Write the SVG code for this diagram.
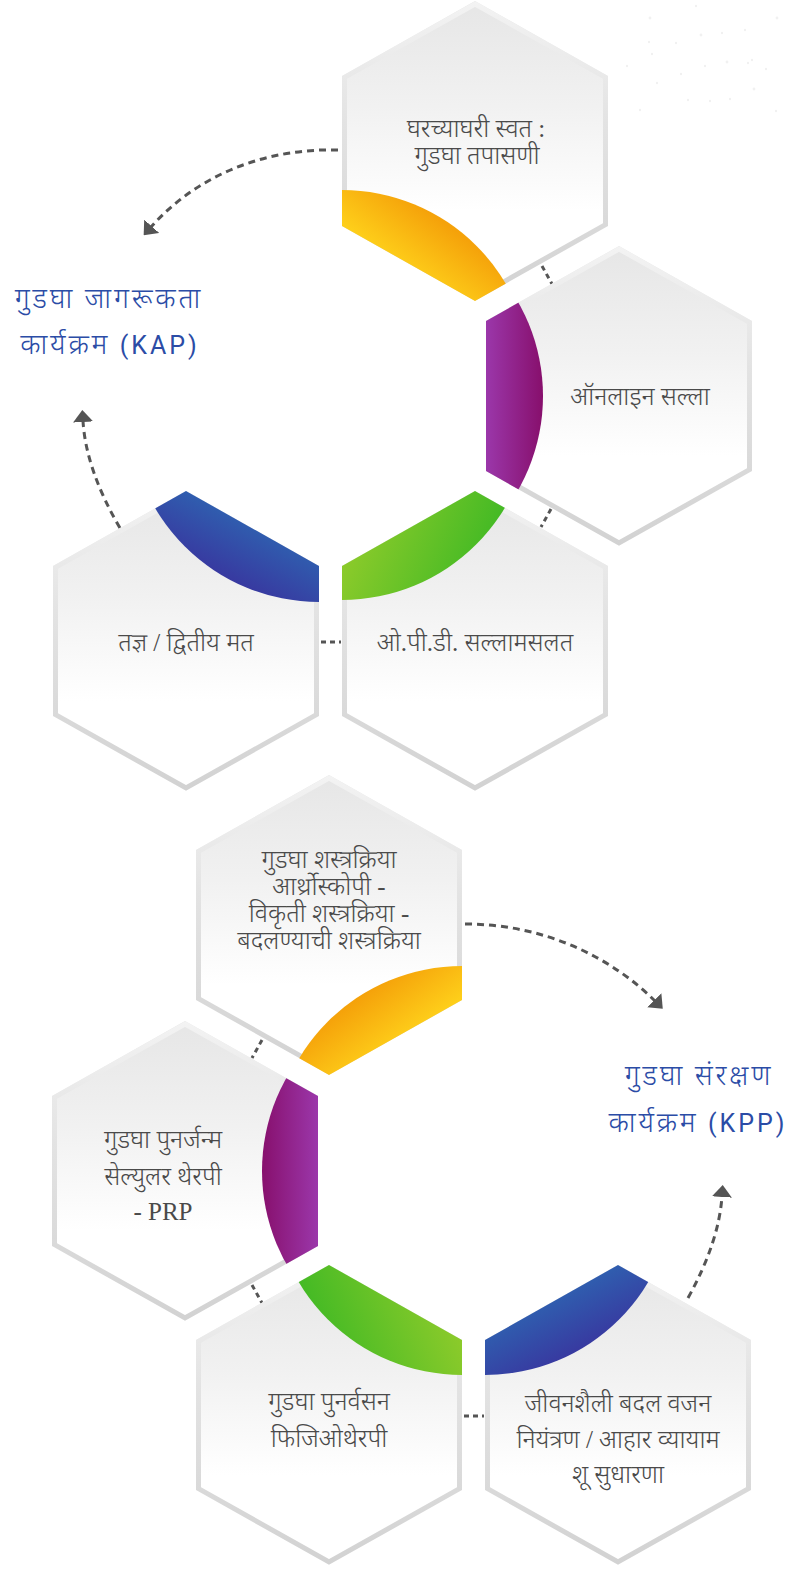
<svg xmlns="http://www.w3.org/2000/svg" width="792" height="1571" viewBox="0 0 792 1571">
  <defs>
    <style>
      .hexfill { fill: url(#hexFill); }
      .hexedge { fill: none; stroke: url(#hexEdge); stroke-width: 5; stroke-linejoin: miter; }
      .label { font-family: 'Liberation Serif', 'Noto Sans Devanagari', 'Noto Serif Devanagari', serif; font-size: 25px; font-weight: 300; fill: #4a4a4a; text-anchor: middle; }
      .title { font-family: Roboto, 'Noto Sans Devanagari', 'Noto Sans', sans-serif; font-size: 28px; font-weight: 300; letter-spacing: 2.8px; fill: #2b4ca6; text-anchor: middle; }
      .latin { font-size: 25px; font-weight: 400; letter-spacing: 3px; }
      .flow { fill: none; stroke: #555555; stroke-width: 3; stroke-dasharray: 7 5; }
      .link { fill: none; stroke: #555555; stroke-width: 3; stroke-dasharray: 5 4; }
      .dot { fill: #f1f1f1; }
    </style>

    <!-- hexagon outline, centred on the origin -->
    <path id="hexOuter" d="M0,-150 L133,-75 L133,75 L0,150 L-133,75 L-133,-75 Z"/>
    <clipPath id="hexClip" clipPathUnits="userSpaceOnUse">
      <use href="#hexOuter"/>
    </clipPath>

    <linearGradient id="hexFill" gradientUnits="userSpaceOnUse" x1="0" y1="-150" x2="0" y2="60">
      <stop offset="0" stop-color="#e6e6e6"/>
      <stop offset="0.5" stop-color="#f1f1f1"/>
      <stop offset="1" stop-color="#ffffff"/>
    </linearGradient>
    <linearGradient id="hexEdge" gradientUnits="userSpaceOnUse" x1="0" y1="-150" x2="0" y2="150">
      <stop offset="0" stop-color="#f3f3f3"/>
      <stop offset="0.4" stop-color="#e3e3e3"/>
      <stop offset="1" stop-color="#d2d2d2"/>
    </linearGradient>

    <!-- accent segment colours -->
    <linearGradient id="yellowA" gradientUnits="userSpaceOnUse" x1="-20" y1="80" x2="-60" y2="135">
      <stop offset="0" stop-color="#f5a20a"/>
      <stop offset="1" stop-color="#ffd41c"/>
    </linearGradient>
    <linearGradient id="yellowB" gradientUnits="userSpaceOnUse" x1="20" y1="80" x2="60" y2="135">
      <stop offset="0" stop-color="#f5a20a"/>
      <stop offset="1" stop-color="#ffd41c"/>
    </linearGradient>
    <linearGradient id="purpleA" gradientUnits="userSpaceOnUse" x1="-133" y1="0" x2="-76" y2="0">
      <stop offset="0" stop-color="#9b37aa"/>
      <stop offset="1" stop-color="#870f6c"/>
    </linearGradient>
    <linearGradient id="purpleB" gradientUnits="userSpaceOnUse" x1="133" y1="0" x2="76" y2="0">
      <stop offset="0" stop-color="#9b37aa"/>
      <stop offset="1" stop-color="#870f6c"/>
    </linearGradient>
    <linearGradient id="greenA" gradientUnits="userSpaceOnUse" x1="-130" y1="-110" x2="10" y2="-50">
      <stop offset="0" stop-color="#92cc2b"/>
      <stop offset="1" stop-color="#3cb824"/>
    </linearGradient>
    <linearGradient id="greenB" gradientUnits="userSpaceOnUse" x1="130" y1="-110" x2="-10" y2="-50">
      <stop offset="0" stop-color="#92cc2b"/>
      <stop offset="1" stop-color="#3cb824"/>
    </linearGradient>
    <linearGradient id="blueA" gradientUnits="userSpaceOnUse" x1="90" y1="-140" x2="40" y2="-45">
      <stop offset="0" stop-color="#2b72b7"/>
      <stop offset="1" stop-color="#3a2f9c"/>
    </linearGradient>
    <linearGradient id="blueB" gradientUnits="userSpaceOnUse" x1="-90" y1="-140" x2="-40" y2="-45">
      <stop offset="0" stop-color="#2b72b7"/>
      <stop offset="1" stop-color="#3a2f9c"/>
    </linearGradient>

    <marker id="arrow" viewBox="0 0 12 20" refX="1" refY="10" markerWidth="12" markerHeight="20" markerUnits="userSpaceOnUse" orient="auto">
      <path d="M0,0 L12,10 L0,20 Z" fill="#555555"/>
    </marker>
  </defs>

  <rect width="792" height="1571" fill="#ffffff"/>

  <!-- faint dot texture, top right -->
  <g id="dots">
    <circle class="dot" cx="650" cy="18" r="1.4"/>
    <circle class="dot" cx="696" cy="6" r="1.2"/>
    <circle class="dot" cx="649" cy="42" r="1.2"/>
    <circle class="dot" cx="701" cy="35" r="1.4"/>
    <circle class="dot" cx="722" cy="33" r="1.2"/>
    <circle class="dot" cx="745" cy="30" r="1.2"/>
    <circle class="dot" cx="777" cy="18" r="1.4"/>
    <circle class="dot" cx="752" cy="60" r="1.2"/>
    <circle class="dot" cx="676" cy="43" r="1.2"/>
    <circle class="dot" cx="627" cy="66" r="1.2"/>
    <circle class="dot" cx="652" cy="54" r="1.2"/>
    <circle class="dot" cx="727" cy="62" r="1.4"/>
    <circle class="dot" cx="748" cy="63" r="1.2"/>
    <circle class="dot" cx="766" cy="69" r="1.2"/>
    <circle class="dot" cx="681" cy="74" r="1.2"/>
    <circle class="dot" cx="705" cy="66" r="1.2"/>
    <circle class="dot" cx="754" cy="89" r="1.4"/>
    <circle class="dot" cx="710" cy="101" r="1.2"/>
    <circle class="dot" cx="730" cy="99" r="1.2"/>
    <circle class="dot" cx="657" cy="83" r="1.2"/>
    <circle class="dot" cx="776" cy="111" r="1.2"/>
    <circle class="dot" cx="640" cy="110" r="1.2"/>
    <circle class="dot" cx="688" cy="100" r="1.2"/>
  </g>

  <!-- connectors -->
  <g id="connectors">
    <path class="flow" d="M338,150 C270,148 200,172 151,227" marker-end="url(#arrow)"/>
    <path class="flow" d="M120,528 Q86,470 83,421" marker-end="url(#arrow)"/>
    <path class="flow" d="M465,924 C545,924 612,958 655,1001" marker-end="url(#arrow)"/>
    <path class="flow" d="M688,1298 Q719,1242 722,1196" marker-end="url(#arrow)"/>

    <path class="link" d="M542,266 L552,284"/>
    <path class="link" d="M551,509 L541,527"/>
    <path class="link" d="M321,642 L341,642"/>
    <path class="link" d="M262,1040 L252,1058"/>
    <path class="link" d="M252,1285 L262,1303"/>
    <path class="link" d="M464,1416 L484,1416"/>
  </g>

  <!-- KAP: awareness cycle -->
  <g id="hex-self-check" transform="translate(475,151)">
    <use href="#hexOuter" class="hexfill"/>
    <path class="hexedge" d="M0,-147 L130.5,-73.6 L130.5,73.6 L0,147 L-130.5,73.6 L-130.5,-73.6 Z"/>
    <circle cx="-133" cy="229" r="190" fill="url(#yellowA)" clip-path="url(#hexClip)"/>
    <text class="label" x="1" y="-14">घरच्याघरी स्वत :</text>
    <text class="label" x="2" y="13">गुडघा तपासणी</text>
  </g>

  <g id="hex-online" transform="translate(619,396)">
    <use href="#hexOuter" class="hexfill"/>
    <path class="hexedge" d="M0,-147 L130.5,-73.6 L130.5,73.6 L0,147 L-130.5,73.6 L-130.5,-73.6 Z"/>
    <circle cx="-266" cy="0" r="190" fill="url(#purpleA)" clip-path="url(#hexClip)"/>
    <text class="label" x="21" y="9">ऑनलाइन सल्ला</text>
  </g>

  <g id="hex-expert" transform="translate(186,641)">
    <use href="#hexOuter" class="hexfill"/>
    <path class="hexedge" d="M0,-147 L130.5,-73.6 L130.5,73.6 L0,147 L-130.5,73.6 L-130.5,-73.6 Z"/>
    <circle cx="133" cy="-229" r="190" fill="url(#blueA)" clip-path="url(#hexClip)"/>
    <text class="label" x="0" y="10">तज्ञ / द्वितीय मत</text>
  </g>

  <g id="hex-opd" transform="translate(475,641)">
    <use href="#hexOuter" class="hexfill"/>
    <path class="hexedge" d="M0,-147 L130.5,-73.6 L130.5,73.6 L0,147 L-130.5,73.6 L-130.5,-73.6 Z"/>
    <circle cx="-133" cy="-231" r="190" fill="url(#greenA)" clip-path="url(#hexClip)"/>
    <text class="label" x="0" y="10">ओ.पी.डी. सल्लामसलत</text>
  </g>

  <g id="title-kap">
    <text class="title" x="109" y="308">गुडघा जागरूकता</text>
    <text class="title" x="110" y="354">कार्यक्रम <tspan class="latin">(KAP)</tspan></text>
  </g>

  <!-- KPP: preservation cycle -->
  <g id="hex-surgery" transform="translate(329,925)">
    <use href="#hexOuter" class="hexfill"/>
    <path class="hexedge" d="M0,-147 L130.5,-73.6 L130.5,73.6 L0,147 L-130.5,73.6 L-130.5,-73.6 Z"/>
    <circle cx="133" cy="231" r="190" fill="url(#yellowB)" clip-path="url(#hexClip)"/>
    <text class="label" x="0" y="-57">गुडघा शस्त्रक्रिया</text>
    <text class="label" x="0" y="-30">आर्थ्रोस्कोपी -</text>
    <text class="label" x="0" y="-3">विकृती शस्त्रक्रिया -</text>
    <text class="label" x="0" y="24">बदलण्याची शस्त्रक्रिया</text>
  </g>

  <g id="hex-regen" transform="translate(185,1171)">
    <use href="#hexOuter" class="hexfill"/>
    <path class="hexedge" d="M0,-147 L130.5,-73.6 L130.5,73.6 L0,147 L-130.5,73.6 L-130.5,-73.6 Z"/>
    <circle cx="267" cy="0" r="190" fill="url(#purpleB)" clip-path="url(#hexClip)"/>
    <text class="label" x="-22" y="-23">गुडघा पुनर्जन्म</text>
    <text class="label" x="-22" y="14">सेल्युलर थेरपी</text>
    <text class="label" x="-22" y="49">- PRP</text>
  </g>

  <g id="hex-rehab" transform="translate(329,1415)">
    <use href="#hexOuter" class="hexfill"/>
    <path class="hexedge" d="M0,-147 L130.5,-73.6 L130.5,73.6 L0,147 L-130.5,73.6 L-130.5,-73.6 Z"/>
    <circle cx="133" cy="-230" r="190" fill="url(#greenB)" clip-path="url(#hexClip)"/>
    <text class="label" x="0" y="-5">गुडघा पुनर्वसन</text>
    <text class="label" x="0" y="32">फिजिओथेरपी</text>
  </g>

  <g id="hex-lifestyle" transform="translate(618,1415)">
    <use href="#hexOuter" class="hexfill"/>
    <path class="hexedge" d="M0,-147 L130.5,-73.6 L130.5,73.6 L0,147 L-130.5,73.6 L-130.5,-73.6 Z"/>
    <circle cx="-133" cy="-230" r="190" fill="url(#blueB)" clip-path="url(#hexClip)"/>
    <text class="label" x="0" y="-3">जीवनशैली बदल वजन</text>
    <text class="label" x="0" y="33">नियंत्रण / आहार व्यायाम</text>
    <text class="label" x="0" y="68">शू सुधारणा</text>
  </g>

  <g id="title-kpp">
    <text class="title" x="699" y="1085">गुडघा संरक्षण</text>
    <text class="title" x="698" y="1132">कार्यक्रम <tspan class="latin">(KPP)</tspan></text>
  </g>
</svg>
